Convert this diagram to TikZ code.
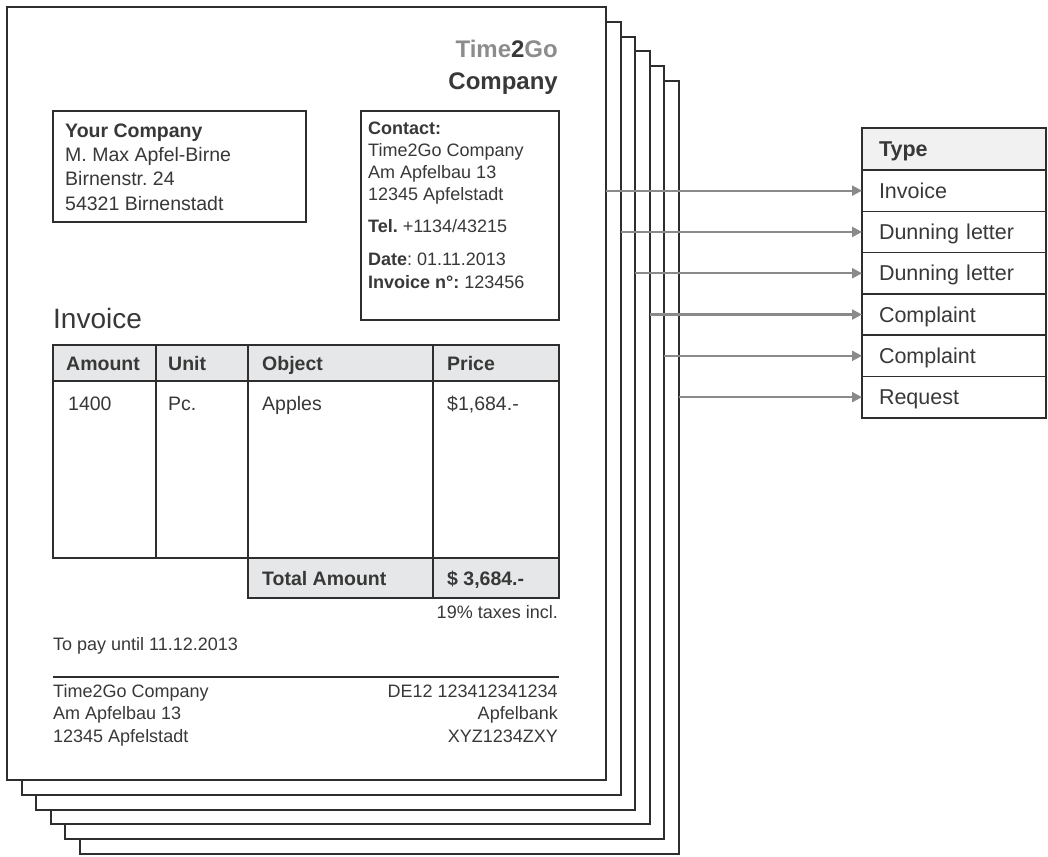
\documentclass[tikz,border=0pt]{standalone}
\usepackage{fontspec}
\setmainfont{Liberation Sans}
\usetikzlibrary{arrows.meta}
\frenchspacing
\definecolor{ink}{HTML}{2E2E2E}
\definecolor{txt}{HTML}{383838}
\definecolor{hdr}{HTML}{E6E7E8}
\definecolor{hdrb}{HTML}{F1F1F2}
\definecolor{arrowgray}{HTML}{8A8A8A}
\definecolor{logogray}{HTML}{8C8C8C}
\begin{document}
\frenchspacing
\begin{tikzpicture}[x=1pt,y=-1pt,
  every node/.append style={execute at begin node=\frenchspacing},
  page/.style={draw=ink,line width=2pt,fill=white,minimum width=599pt,minimum height=773pt,anchor=north west,inner sep=0pt,outer sep=0pt},
  box/.style={draw=ink,line width=1.6pt,anchor=north west,inner sep=0pt,outer sep=0pt},
  gridline/.style={draw=ink,line width=1.8pt},
  ta/.style={anchor=base west,inner sep=0pt,text=txt,font=\fontsize{19.5}{24}\selectfont},
  tb/.style={anchor=base west,inner sep=0pt,text=txt,font=\fontsize{18}{22}\selectfont},
  tbr/.style={anchor=base east,inner sep=0pt,text=txt,font=\fontsize{18}{22}\selectfont},
  tt/.style={anchor=base west,inner sep=0pt,text=txt,font=\fontsize{19.5}{24}\selectfont},
  logo/.style={anchor=base east,inner sep=0pt,font=\fontsize{24}{28}\bfseries\selectfont},
  typerow/.style={draw=ink,line width=1.6pt,anchor=north west,minimum height=41.3pt,outer sep=0pt,
    text width=150pt,inner xsep=17pt,inner ysep=0pt,align=left,text height=19.5pt,text depth=4.5pt,
    text=txt,font=\fontsize{21.5}{26}\selectfont},
  arr/.style={draw=arrowgray,line width=2.2pt,-{Triangle[length=10pt,width=10pt]}}
]
\useasboundingbox (0,0) rectangle (1048,856);
% stacked pages
\node[page] (p6) at (80,81) {};
\node[page] (p5) at (65.4,66.2) {};
\node[page] (p4) at (50.8,51.4) {};
\node[page] (p3) at (36.2,36.6) {};
\node[page] (p2) at (21.6,21.8) {};
\node[page] (p1) at (7,7) {};
% logo
\node[logo,text=logogray] (logo1) at (558,58) {Time\textcolor{txt}{2}Go};
\node[logo,text=txt] (logo2) at (558,90) {Company};
% address box
\node[box,minimum width=253pt,minimum height=111pt] (addr) at (53,111) {};
\node[ta,font=\fontsize{19.5}{24}\bfseries\selectfont] (a1) at (65,137) {Your Company};
\node[ta] (a2) at (65,161) {M. Max Apfel-Birne};
\node[ta] (a3) at (65,185) {Birnenstr. 24};
\node[ta] (a4) at (65,210) {54321 Birnenstadt};
% contact box
\node[box,minimum width=198pt,minimum height=209pt] (contact) at (361,111) {};
\node[tb,font=\fontsize{18}{22}\bfseries\selectfont] (c1) at (368,134) {Contact:};
\node[tb] (c2) at (368,156) {Time2Go Company};
\node[tb] (c3) at (368,178) {Am Apfelbau 13};
\node[tb] (c4) at (368,200) {12345 Apfelstadt};
\node[tb] (c5) at (368,232) {\textbf{Tel.} +1134/43215};
\node[tb] (c6) at (368,265) {\textbf{Date}: 01.11.2013};
\node[tb] (c7) at (368,288) {\textbf{Invoice n°:} 123456};
% title
\node[anchor=base west,inner sep=0pt,text=txt,font=\fontsize{28}{32}\selectfont] (title) at (53,328) {Invoice};
% table
\fill[hdr] (53,345) rectangle (559,381);
\fill[hdr] (248,558) rectangle (559,598);
\draw[gridline] (53,345) rectangle (559,558);
\draw[gridline] (248,558) rectangle (559,598);
\draw[gridline] (53,381) -- (559,381);
\draw[gridline] (156,345) -- (156,558);
\draw[gridline] (248,345) -- (248,598);
\draw[gridline] (433,345) -- (433,598);
\node[tt,font=\fontsize{19.5}{24}\bfseries\selectfont] (h1) at (66,370) {Amount};
\node[tt,font=\fontsize{19.5}{24}\bfseries\selectfont] (h2) at (168,370) {Unit};
\node[tt,font=\fontsize{19.5}{24}\bfseries\selectfont] (h3) at (262,370) {Object};
\node[tt,font=\fontsize{19.5}{24}\bfseries\selectfont] (h4) at (447,370) {Price};
\node[tt] (d1) at (68,410) {1400};
\node[tt] (d2) at (168,410) {Pc.};
\node[tt] (d3) at (262,410) {Apples};
\node[tt] (d4) at (447,410) {\$1,684.-};
\node[tt,font=\fontsize{19.5}{24}\bfseries\selectfont] (s1) at (262,585) {Total Amount};
\node[tt,font=\fontsize{19.5}{24}\bfseries\selectfont] (s2) at (447,585) {\$ 3,684.-};
\node[tbr] (tax) at (558,618) {19\% taxes incl.};
\node[tb] (pay) at (53,650) {To pay until 11.12.2013};
\draw[draw=ink,line width=2.2pt] (53,677) -- (559,677);
% footer
\node[tb] (f1) at (53,697) {Time2Go Company};
\node[tb] (f2) at (53,719) {Am Apfelbau 13};
\node[tb] (f3) at (53,742) {12345 Apfelstadt};
\node[tbr] (f4) at (558,697) {DE12 123412341234};
\node[tbr] (f5) at (558,719) {Apfelbank};
\node[tbr] (f6) at (558,742) {XYZ1234ZXY};
% type table
\node[typerow,fill=hdrb,minimum height=42pt,font=\fontsize{21.5}{26}\bfseries\selectfont] (th) at (862,128) {Type};
\node[typerow] (t1) at (th.south west) {Invoice};
\node[typerow] (t2) at (t1.south west) {Dunning letter};
\node[typerow] (t3) at (t2.south west) {Dunning letter};
\node[typerow] (t4) at (t3.south west) {Complaint};
\node[typerow] (t5) at (t4.south west) {Complaint};
\node[typerow] (t6) at (t5.south west) {Request};
% arrows
\draw[arr] (p1.east |- t1.west) -- (t1.west);
\draw[arr] (p2.east |- t2.west) -- (t2.west);
\draw[arr] (p3.east |- t3.west) -- (t3.west);
\draw[arr] (p4.east |- t4.west) -- (t4.west);
\draw[arr] (p5.east |- t5.west) -- (t5.west);
\draw[arr] (p6.east |- t6.west) -- (t6.west);
\end{tikzpicture}
\end{document}
